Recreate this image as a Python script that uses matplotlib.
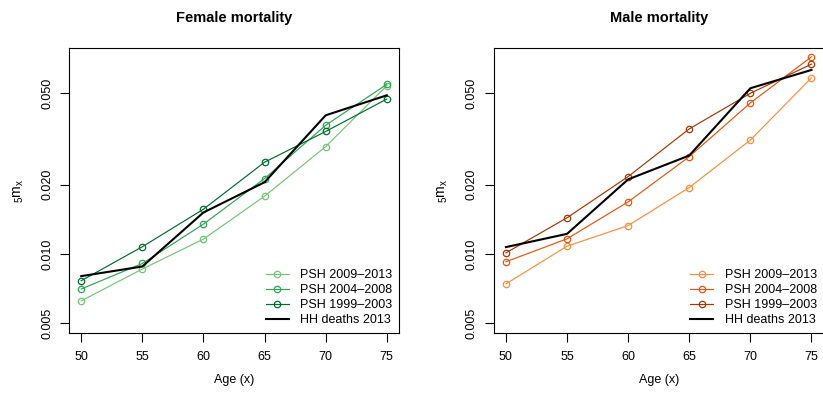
import matplotlib
matplotlib.use("Agg")
import matplotlib.pyplot as plt
from matplotlib.ticker import FixedLocator, FixedFormatter, NullLocator

plt.rcParams['font.family'] = ['Liberation Sans', 'DejaVu Sans']
plt.rcParams['mathtext.fontset'] = 'custom'
plt.rcParams['mathtext.rm'] = 'Liberation Sans'
plt.rcParams['mathtext.it'] = 'Liberation Sans'

ages = [50, 55, 60, 65, 70, 75]
series_labels = ["PSH 2009\u20132013", "PSH 2004\u20132008", "PSH 1999\u20132003", "HH deaths 2013"]

female_psh_0913 = [0.00624, 0.00859, 0.01159, 0.01783, 0.0293, 0.0540]
female_psh_0408 = [0.00703, 0.00908, 0.01347, 0.02128, 0.0363, 0.0547]
female_psh_9903 = [0.00764, 0.01074, 0.01565, 0.02506, 0.0341, 0.0472]
female_hh_2013 = [0.00800, 0.00881, 0.01514, 0.0205, 0.0401, 0.0490]

male_psh_0913 = [0.0074, 0.0108, 0.01328, 0.01944, 0.0313, 0.0584]
male_psh_0408 = [0.00924, 0.01163, 0.01684, 0.0265, 0.0454, 0.0721]
male_psh_9903 = [0.0101, 0.01436, 0.0217, 0.0350, 0.0500, 0.0670]
male_hh_2013 = [0.0107, 0.01222, 0.0211, 0.0268, 0.0526, 0.0632]

yticks = [0.005, 0.010, 0.020, 0.050]
ytick_labels = ["0.005", "0.010", "0.020", "0.050"]

greens = ["#74c476", "#31a354", "#006d2c"]
oranges = ["#fd8d3c", "#e6550d", "#a63603"]

W, H = 823, 395
fig = plt.figure(figsize=(W / 100, H / 100), dpi=100)

def px_axes(left, top, right, bottom):
    return fig.add_axes([left / W, (H - bottom) / H, (right - left) / W, (bottom - top) / H])

ax1 = px_axes(69, 48.3, 399, 333.3)
ax2 = px_axes(493.7, 48.3, 823.7, 333.3)

panels = [
    (ax1, "Female mortality", [female_psh_0913, female_psh_0408, female_psh_9903], female_hh_2013, greens),
    (ax2, "Male mortality", [male_psh_0913, male_psh_0408, male_psh_9903], male_hh_2013, oranges),
]

for ax, title, psh, hh, cols in panels:
    for vals, c, lab in zip(psh, cols, series_labels[:3]):
        ax.plot(ages, vals, color=c, lw=0.85, marker='o', markersize=4.6,
                markerfacecolor='none', markeredgecolor=c, markeredgewidth=0.9, label=lab)
    ax.plot(ages, hh, color='black', lw=1.5, label=series_labels[3])
    ax.set_yscale('log')
    ax.set_xlim(49, 76)
    ax.set_ylim(0.00451, 0.0785)
    ax.yaxis.set_major_locator(FixedLocator(yticks))
    ax.yaxis.set_major_formatter(FixedFormatter(ytick_labels))
    ax.yaxis.set_minor_locator(NullLocator())
    ax.set_xticks(ages)
    ax.set_xticklabels([str(a) for a in ages])
    ax.tick_params(axis='both', direction='out', length=6.5, width=0.8, labelsize=9,
                   colors='black', pad=5)
    ax.tick_params(axis='x', pad=6)
    for lab in ax.get_yticklabels():
        lab.set_rotation(90)
        lab.set_va('center')
    for s in ax.spines.values():
        s.set_linewidth(0.8)
    ax.text(0.5, 1 + 30.3 / 285, title, transform=ax.transAxes, ha='center', va='center',
            fontsize=10.5, fontweight='bold')
    ax.text(0.5, -46.7 / 285, "Age (x)", transform=ax.transAxes, ha='center', va='center',
            fontsize=9)
    ax.text(-50.5 / 330, 0.5, r"$_5\mathrm{m}_x$", transform=ax.transAxes, ha='center',
            va='center', rotation=90, fontsize=10)
    ax.legend(loc='lower right', frameon=False, fontsize=9, handlelength=1.85,
              handletextpad=0.9, labelspacing=0.25, borderaxespad=0.15,
              bbox_to_anchor=(1.0, 0.0))

fig.savefig("out.png", dpi=100)
